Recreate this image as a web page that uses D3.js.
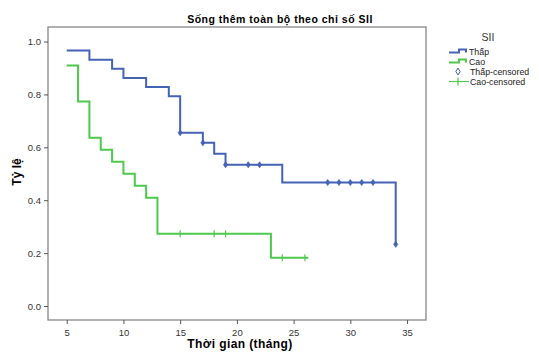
<!DOCTYPE html>
<html><head><meta charset="utf-8">
<script src="https://cdn.jsdelivr.net/npm/d3@7"></script>
<style>body{margin:0;background:#fff}svg{display:block}text{font-family:"Liberation Sans",Arial,sans-serif}</style>
</head><body>
<svg id="c" width="539" height="352"></svg>
<script>
const title = "Sống thêm toàn bộ theo chỉ số SII";
const xLabel = "Thời gian (tháng)";
const yLabel = "Tỷ lệ";
const legendTitle = "SII";
const seriesNames = ["Thấp", "Cao"];
const censoredNames = ["Thấp-censored", "Cao-censored"];
const xTicks = [5, 10, 15, 20, 25, 30, 35];
const yTicks = [0.0, 0.2, 0.4, 0.6, 0.8, 1.0];
// step points: [time, survival after time]
const thapSteps = [[5,0.966],[7,0.931],[9,0.897],[10,0.862],[12,0.828],[14,0.793],[15,0.655],[17,0.617],[18,0.576],[19,0.534],[24,0.467],[34,0.233]];
const thapEnd = 34;
const thapCensored = [[15,0.655],[17,0.617],[19,0.534],[21,0.534],[22,0.534],[28,0.467],[29,0.467],[30,0.467],[31,0.467],[32,0.467],[34,0.233]];
const caoSteps = [[5,0.909],[6,0.773],[7,0.636],[8,0.591],[9,0.545],[10,0.500],[11,0.455],[12,0.409],[13,0.273],[23,0.182]];
const caoEnd = 26.3;
const caoCensored = [[15,0.273],[18,0.273],[19,0.273],[24,0.182],[26,0.182]];
const colors = ["#4563b5", "#4ec94e"];

const svg = d3.select("#c");
const L = 48, R = 426, T = 27, B = 320;
const x = d3.scaleLinear().domain([3.35, 36.67]).range([L, R]);
const y = d3.scaleLinear().domain([-0.053, 1.055]).range([B, T]);

svg.append("rect").attr("x", L).attr("y", T).attr("width", R - L).attr("height", B - T)
  .attr("fill", "none").attr("stroke", "#888").attr("stroke-width", 1.3);

const xa = svg.append("g").attr("transform", `translate(0,${B})`)
  .call(d3.axisBottom(x).tickValues(xTicks).tickFormat(d3.format("d")).tickSize(4).tickSizeOuter(0));
const ya = svg.append("g").attr("transform", `translate(${L},0)`)
  .call(d3.axisLeft(y).tickValues(yTicks).tickFormat(d3.format(".1f")).tickSize(4).tickSizeOuter(0));
[xa, ya].forEach(a => {
  a.select(".domain").remove();
  a.selectAll("line").attr("stroke", "#555");
  a.selectAll("text").attr("fill", "#333").style("font-size", "9.5px").style("font-family", "'Liberation Sans',Arial,sans-serif");
});
xa.selectAll("text").attr("dy", "0.9em");

const stepLine = d3.line().x(d => x(d[0])).y(d => y(d[1])).curve(d3.curveStepAfter);
function drawSeries(steps, end, col) {
  const pts = steps.concat([[end, steps[steps.length - 1][1]]]);
  svg.append("path").datum(pts).attr("d", stepLine).attr("fill", "none")
    .attr("stroke", col).attr("stroke-width", 2);
}
drawSeries(thapSteps, thapEnd, colors[0]);
drawSeries(caoSteps, caoEnd, colors[1]);

svg.selectAll(".cd").data(thapCensored).enter().append("path")
  .attr("transform", d => `translate(${x(d[0])},${y(d[1])})`)
  .attr("d", "M0,-3L2,0L0,3L-2,0Z").attr("fill", colors[0]).attr("stroke", colors[0]).attr("stroke-width", 0.8);
svg.selectAll(".cc").data(caoCensored).enter().append("line")
  .attr("x1", d => x(d[0])).attr("x2", d => x(d[0]))
  .attr("y1", d => y(d[1]) - 3.5).attr("y2", d => y(d[1]) + 3.5)
  .attr("stroke", colors[1]).attr("stroke-width", 1.2);

svg.append("text").attr("x", 280).attr("y", 23).attr("text-anchor", "middle")
  .style("font-size", "10.5px").style("font-weight", "bold").style("letter-spacing", "0.5px").text(title);
svg.append("text").attr("x", 240).attr("y", 348).attr("text-anchor", "middle")
  .style("font-size", "12px").style("font-weight", "bold").style("letter-spacing", "0.4px").text(xLabel);
svg.append("text").attr("transform", "translate(21,172) rotate(-90)").attr("text-anchor", "middle")
  .style("font-size", "12px").style("font-weight", "bold").text(yLabel);

// legend
const lg = svg.append("g");
lg.append("text").attr("x", 488).attr("y", 41).attr("text-anchor", "middle")
  .style("font-size", "10.5px").attr("fill", "#333").text(legendTitle);
const rows = [51.5, 61.5, 71.5, 81.5];
const fs = "8.8px";
[0, 1].forEach(i => {
  const yy = rows[i];
  lg.append("path").attr("d", `M449,${yy + 1}H459V${yy - 2}H466V${yy + 1}`)
    .attr("fill", "none").attr("stroke", colors[i]).attr("stroke-width", 2);
  lg.append("text").attr("x", 469).attr("y", yy + 3.2).style("font-size", fs).attr("fill", "#222").text(seriesNames[i]);
});
lg.append("path").attr("transform", `translate(458,${rows[2]})`).attr("d", "M0,-3.5L2.2,0L0,3.5L-2.2,0Z")
  .attr("fill", "none").attr("stroke", colors[0]).attr("stroke-width", 1);
lg.append("text").attr("x", 470).attr("y", rows[2] + 3.2).style("font-size", fs).attr("fill", "#222").text(censoredNames[0]);
lg.append("line").attr("x1", 449).attr("x2", 469).attr("y1", rows[3]).attr("y2", rows[3]).attr("stroke", colors[1]).attr("stroke-width", 1.2);
lg.append("line").attr("x1", 458).attr("x2", 458).attr("y1", rows[3] - 4).attr("y2", rows[3] + 4).attr("stroke", colors[1]).attr("stroke-width", 1.2);
lg.append("text").attr("x", 470).attr("y", rows[3] + 3.2).style("font-size", fs).attr("fill", "#222").text(censoredNames[1]);
</script>
</body></html>
